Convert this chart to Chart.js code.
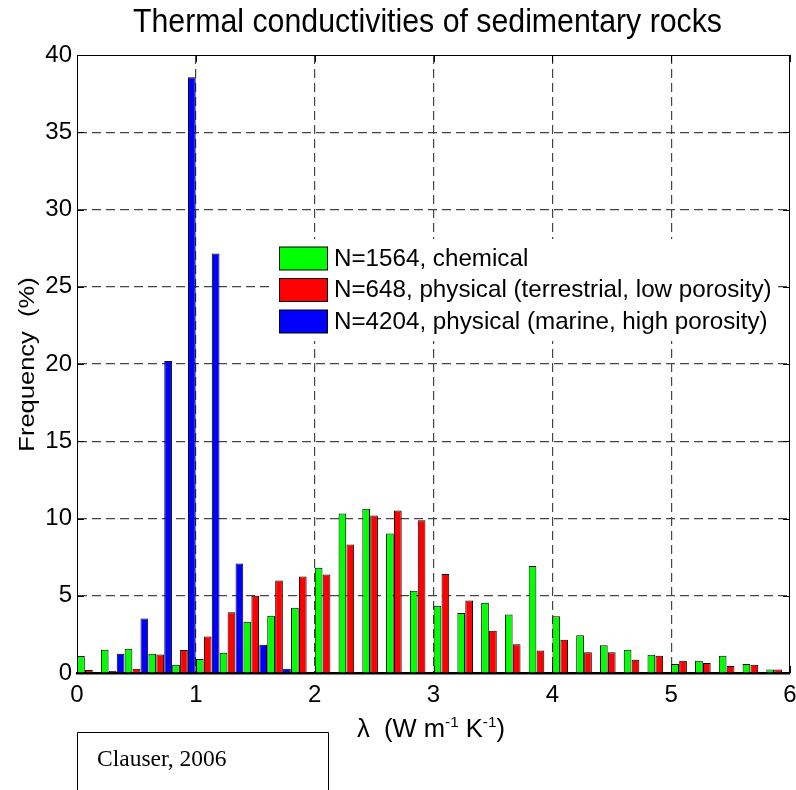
<!DOCTYPE html>
<html><head><meta charset="utf-8">
<script src="https://cdn.jsdelivr.net/npm/chart.js@4/dist/chart.umd.min.js"></script>
<style>html,body{margin:0;padding:0;background:#fff}</style>
</head><body>
<canvas id="c" width="796" height="790"></canvas>
<script>
const chartTitle = 'Thermal conductivities of sedimentary rocks';
const yAxisTitle = 'Frequency  (%)';
const sourceNote = 'Clauser, 2006';
const seriesLabels = ['N=1564, chemical', 'N=648, physical (terrestrial, low porosity)', 'N=4204, physical (marine, high porosity)'];
const seriesColors = ['#00ff00', '#ff0000', '#0000ff'];
const binCenters = [0.1,0.3,0.5,0.7,0.9,1.1,1.3,1.5,1.7,1.9,2.1,2.3,2.5,2.7,2.9,3.1,3.3,3.5,3.7,3.9,4.1,4.3,4.5,4.7,4.9,5.1,5.3,5.5,5.7,5.9];
const chemical = [1.1,1.5,1.57,1.25,0.54,0.9,1.31,3.32,3.71,4.22,6.82,10.32,10.63,9.03,5.33,4.36,3.89,4.54,3.78,6.92,3.67,2.45,1.8,1.5,1.18,0.58,0.79,1.12,0.58,0.22];
const terrestrial = [0.2,0.13,0.28,1.19,1.49,2.37,3.94,5.0,5.99,6.25,6.37,8.32,10.19,10.52,9.89,6.41,4.69,2.74,1.86,1.45,2.15,1.35,1.35,0.86,1.12,0.79,0.64,0.45,0.54,0.22];
const marine = [0,1.25,3.53,20.2,38.56,27.15,7.09,1.83,0.28,0,0,0,0,0,0,0,0,0,0,0,0,0,0,0,0,0,0,0,0,0];
const xTickValues = [0,1,2,3,4,5,6];
const yTickValues = [0,5,10,15,20,25,30,35,40];

const FONT = 'Liberation Sans, Arial, sans-serif';
const seriesValues = [chemical, terrestrial, marine];

const decor = {
  id: 'decor',
  afterDatasetsDraw(chart) {
    const ctx = chart.ctx;
    ctx.save();
    ctx.fillStyle = '#fff';
    ctx.fillRect(274, 239, 503, 102);
    ctx.font = '24.2px ' + FONT;
    ctx.textBaseline = 'middle';
    ctx.textAlign = 'left';
    seriesLabels.forEach((lab, i) => {
      const y = 247 + i * 31.5;
      ctx.fillStyle = seriesColors[i];
      ctx.fillRect(279.5, y, 48, 23);
      ctx.strokeStyle = '#000';
      ctx.lineWidth = 1;
      ctx.strokeRect(279.5, y, 48, 23);
      ctx.fillStyle = '#000';
      ctx.fillText(lab, 334, y + 12);
    });
    ctx.restore();
  },
  afterDraw(chart) {
    const ctx = chart.ctx;
    const a = chart.chartArea;
    const xs = chart.scales.x, ys = chart.scales.y;
    ctx.save();
    ctx.strokeStyle = '#000';
    ctx.lineWidth = 1;
    ctx.beginPath();
    ctx.moveTo(a.left, a.top + 0.5);
    ctx.lineTo(a.right - 0.5, a.top + 0.5);
    ctx.lineTo(a.right - 0.5, a.bottom);
    ctx.stroke();
    ctx.beginPath();
    xTickValues.forEach(v => {
      const px = Math.round(xs.getPixelForValue(v)) + 0.5;
      ctx.moveTo(px, a.bottom); ctx.lineTo(px, a.bottom - 7);
      ctx.moveTo(px, a.top); ctx.lineTo(px, a.top + 7);
    });
    yTickValues.forEach(v => {
      const py = Math.round(ys.getPixelForValue(v)) + 0.5;
      ctx.moveTo(a.left, py); ctx.lineTo(a.left + 7, py);
      ctx.moveTo(a.right, py); ctx.lineTo(a.right - 7, py);
    });
    ctx.stroke();

    ctx.fillStyle = '#000';
    ctx.textBaseline = 'alphabetic';
    ctx.save();
    ctx.font = '33px ' + FONT;
    let w = ctx.measureText(chartTitle).width;
    ctx.translate(427.5, 32);
    ctx.scale(589 / w, 1);
    ctx.textAlign = 'center';
    ctx.fillText(chartTitle, 0, 0);
    ctx.restore();

    ctx.save();
    ctx.font = '25.5px ' + FONT;
    ctx.translate(33.5, 364.5);
    ctx.rotate(-Math.PI / 2);
    ctx.scale(1, 0.88);
    ctx.textAlign = 'center';
    ctx.fillText(yAxisTitle, 0, 0);
    ctx.restore();

    const parts = [['\u03bb  (W m', 0], ['-1', 1], [' K', 0], ['-1', 1], [')', 0]];
    const big = '25px ' + FONT, small = '15px ' + FONT;
    let total = 0;
    parts.forEach(p => { ctx.font = p[1] ? small : big; total += ctx.measureText(p[0]).width; });
    const sx = 148 / total;
    ctx.save();
    ctx.translate(431 - 74, 0);
    ctx.scale(sx, 1);
    ctx.textAlign = 'left';
    let x = 0;
    parts.forEach(p => {
      ctx.font = p[1] ? small : big;
      ctx.fillText(p[0], x, p[1] ? 727 : 737);
      x += ctx.measureText(p[0]).width;
    });
    ctx.restore();

    ctx.strokeStyle = '#000';
    ctx.lineWidth = 1;
    ctx.beginPath();
    ctx.moveTo(77.5, 795); ctx.lineTo(77.5, 732.5); ctx.lineTo(328.5, 732.5); ctx.lineTo(328.5, 795);
    ctx.stroke();
    ctx.textAlign = 'left';
    ctx.font = '23.5px Liberation Serif, Times New Roman, serif';
    ctx.fillText(sourceNote, 97, 766);
    ctx.restore();
  }
};

new Chart(document.getElementById('c'), {
  type: 'bar',
  data: {
    datasets: seriesValues.map((vals, i) => ({
      label: seriesLabels[i],
      data: binCenters.map((x, j) => ({ x: x, y: vals[j] })),
      backgroundColor: seriesColors[i],
      borderColor: '#000',
      borderWidth: 1,
      categoryPercentage: 1.0,
      barPercentage: 0.97
    }))
  },
  options: {
    responsive: false,
    animation: false,
    devicePixelRatio: 1,
    layout: { padding: { left: 0, right: 6, top: 55, bottom: 0 } },
    plugins: { legend: { display: false }, title: { display: false }, tooltip: { enabled: false } },
    scales: {
      x: {
        type: 'linear', min: 0, max: 6, offset: false,
        afterBuildTicks: s => { s.ticks = xTickValues.map(v => ({ value: v })); },
        afterFit: s => { s.height = 117; s.paddingLeft = 0; s.paddingRight = 0; },
        grid: {
          offset: false,
          color: c => (c.tick && (c.tick.value === 0 || c.tick.value === 6)) ? 'rgba(0,0,0,0)' : '#454545',
          lineWidth: 1.2, drawTicks: false
        },
        border: { display: true, color: '#000', width: 2.5, dash: [9, 5] },
        ticks: { color: '#000', font: { size: 24, family: FONT }, padding: 8, maxRotation: 0, autoSkip: false }
      },
      y: {
        min: 0, max: 40,
        afterBuildTicks: s => { s.ticks = yTickValues.map(v => ({ value: v })); },
        afterFit: s => { s.width = 77; s.paddingTop = 0; s.paddingBottom = 0; },
        grid: {
          color: c => (c.tick && (c.tick.value === 0 || c.tick.value === 40)) ? 'rgba(0,0,0,0)' : '#454545',
          lineWidth: 1.2, drawTicks: false
        },
        border: { display: true, color: '#000', width: 1, dash: [9, 5] },
        ticks: { color: '#000', font: { size: 24, family: FONT }, padding: 5, autoSkip: false }
      }
    }
  },
  plugins: [decor]
});
</script>
</body></html>
